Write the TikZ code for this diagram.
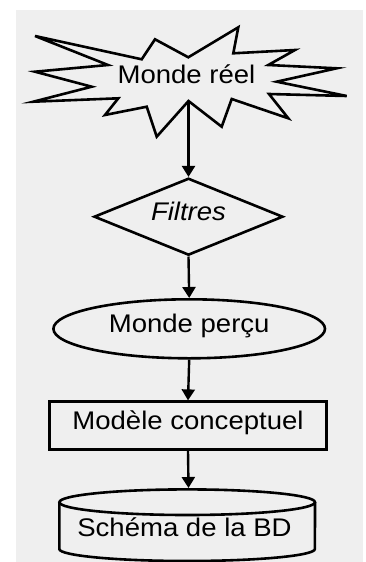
\documentclass[tikz,border=0pt]{standalone}
\usepackage{fontspec}
\setmainfont[FakeStretch=1.08]{Liberation Sans}
\usetikzlibrary{arrows.meta,shapes.geometric}
\definecolor{panel}{RGB}{239,239,239}

\begin{document}
\begin{tikzpicture}[x=1pt,y=-1pt,
  every node/.style={font=\fontsize{25.5}{30}\selectfont, text height=0.716em,
    text depth=0pt, inner sep=0pt, outer sep=0pt},
  shapeline/.style={draw=black, line width=2.6pt, line join=miter},
  boxnode/.style={shapeline, outer sep=1.3pt},
  flow/.style={draw=black, line width=2.4pt, -{Triangle[length=11pt,width=13pt]}},
]
\useasboundingbox (0,0) rectangle (365,562);
\fill[panel] (16,10) rectangle (363,562);

% the real world: an irregular burst outline
\draw[shapeline] (35,36) -- (141.7,59.3) -- (155,39.3) -- (188.3,57.3)
  -- (238.3,27.3) -- (233.3,53.3) -- (295,50) -- (268.3,65) -- (336.7,68.3)
  -- (276.7,81.7) -- (346.7,96) -- (269,94) -- (288.3,118.3) -- (231.7,99)
  -- (221.7,126.7) -- (188.5,101) -- (156.7,136.7) -- (146.7,106.7)
  -- (105,115) -- (118.3,98.3) -- (33.3,101.7) -- (91.7,86.7) -- (35,71.7)
  -- (108,65) -- cycle;
\node (reel) at (186.5,80.3) {Monde réel};
\coordinate (reelfoot) at (188.5,101);

% filters, perceived world, conceptual model
\node[boxnode, diamond, aspect=2.45, minimum width=189pt, minimum height=77pt]
  (filtres) at (188.5,216.7) {\itshape Filtres};
\node[boxnode, ellipse, minimum width=271.6pt, minimum height=59pt]
  (percu) at (189.2,328.8) {Monde perçu};
\node[boxnode, rectangle, minimum width=277.4pt, minimum height=47.6pt]
  (modele) at (188,425.5) {Modèle conceptuel};

% database schema: a cylinder
\draw[shapeline] (59.3,502.2) -- (59.3,549)
  arc[start angle=180, end angle=360, x radius=127.8pt, y radius=12pt]
  -- (315,502.2);
\draw[shapeline] (187.2,502.2) ellipse[x radius=127.8pt, y radius=12.8pt];
\node (schema) at (184.5,532.6) {Schéma de la BD};
\coordinate (dbtop) at (188.5,488);

% connectors
\draw[flow] (reelfoot) -- (filtres.north);
\draw[flow] (filtres.south) -- (percu.north);
\draw[flow] (percu.south) -- (modele.north);
\draw[flow] (modele.south) -- (dbtop);
\end{tikzpicture}
\end{document}
